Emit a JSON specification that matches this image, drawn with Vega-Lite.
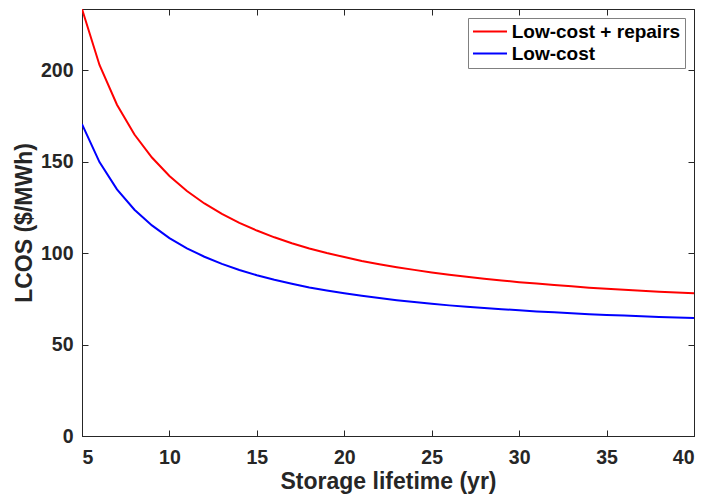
{
  "$schema": "https://vega.github.io/schema/vega-lite/v6.json",
  "autosize": "none",
  "width": 612,
  "height": 427,
  "padding": {"left": 82, "top": 9, "right": 13, "bottom": 62},
  "background": "white",
  "config": {
    "view": {"stroke": "#262626", "strokeWidth": 1},
    "font": "Liberation Sans",
    "axis": {
      "grid": false,
      "domainColor": "#262626",
      "tickColor": "#262626",
      "tickSize": -6,
      "labelFont": "Liberation Sans",
      "labelFontWeight": "bold",
      "labelFontSize": 19.5,
      "labelColor": "#262626",
      "titleFont": "Liberation Sans",
      "titleFontWeight": "bold",
      "titleFontSize": 23,
      "titleColor": "#262626"
    }
  },
  "data": {
    "values": [
      {"lifetime": 5, "lcos": 233.4, "case": "Low-cost + repairs"},
      {"lifetime": 6, "lcos": 202.8, "case": "Low-cost + repairs"},
      {"lifetime": 7, "lcos": 181.1, "case": "Low-cost + repairs"},
      {"lifetime": 8, "lcos": 164.8, "case": "Low-cost + repairs"},
      {"lifetime": 9, "lcos": 152.2, "case": "Low-cost + repairs"},
      {"lifetime": 10, "lcos": 142.1, "case": "Low-cost + repairs"},
      {"lifetime": 11, "lcos": 133.9, "case": "Low-cost + repairs"},
      {"lifetime": 12, "lcos": 127.1, "case": "Low-cost + repairs"},
      {"lifetime": 13, "lcos": 121.4, "case": "Low-cost + repairs"},
      {"lifetime": 14, "lcos": 116.5, "case": "Low-cost + repairs"},
      {"lifetime": 15, "lcos": 112.3, "case": "Low-cost + repairs"},
      {"lifetime": 16, "lcos": 108.6, "case": "Low-cost + repairs"},
      {"lifetime": 17, "lcos": 105.4, "case": "Low-cost + repairs"},
      {"lifetime": 18, "lcos": 102.5, "case": "Low-cost + repairs"},
      {"lifetime": 19, "lcos": 100.0, "case": "Low-cost + repairs"},
      {"lifetime": 20, "lcos": 97.8, "case": "Low-cost + repairs"},
      {"lifetime": 21, "lcos": 95.7, "case": "Low-cost + repairs"},
      {"lifetime": 22, "lcos": 93.9, "case": "Low-cost + repairs"},
      {"lifetime": 23, "lcos": 92.3, "case": "Low-cost + repairs"},
      {"lifetime": 24, "lcos": 90.8, "case": "Low-cost + repairs"},
      {"lifetime": 25, "lcos": 89.4, "case": "Low-cost + repairs"},
      {"lifetime": 26, "lcos": 88.2, "case": "Low-cost + repairs"},
      {"lifetime": 27, "lcos": 87.0, "case": "Low-cost + repairs"},
      {"lifetime": 28, "lcos": 86.0, "case": "Low-cost + repairs"},
      {"lifetime": 29, "lcos": 85.0, "case": "Low-cost + repairs"},
      {"lifetime": 30, "lcos": 84.1, "case": "Low-cost + repairs"},
      {"lifetime": 31, "lcos": 83.3, "case": "Low-cost + repairs"},
      {"lifetime": 32, "lcos": 82.5, "case": "Low-cost + repairs"},
      {"lifetime": 33, "lcos": 81.8, "case": "Low-cost + repairs"},
      {"lifetime": 34, "lcos": 81.1, "case": "Low-cost + repairs"},
      {"lifetime": 35, "lcos": 80.5, "case": "Low-cost + repairs"},
      {"lifetime": 36, "lcos": 79.9, "case": "Low-cost + repairs"},
      {"lifetime": 37, "lcos": 79.4, "case": "Low-cost + repairs"},
      {"lifetime": 38, "lcos": 78.9, "case": "Low-cost + repairs"},
      {"lifetime": 39, "lcos": 78.4, "case": "Low-cost + repairs"},
      {"lifetime": 40, "lcos": 78.0, "case": "Low-cost + repairs"},
      {"lifetime": 5, "lcos": 170.5, "case": "Low-cost"},
      {"lifetime": 6, "lcos": 149.7, "case": "Low-cost"},
      {"lifetime": 7, "lcos": 134.8, "case": "Low-cost"},
      {"lifetime": 8, "lcos": 123.7, "case": "Low-cost"},
      {"lifetime": 9, "lcos": 115.1, "case": "Low-cost"},
      {"lifetime": 10, "lcos": 108.2, "case": "Low-cost"},
      {"lifetime": 11, "lcos": 102.6, "case": "Low-cost"},
      {"lifetime": 12, "lcos": 98.0, "case": "Low-cost"},
      {"lifetime": 13, "lcos": 94.1, "case": "Low-cost"},
      {"lifetime": 14, "lcos": 90.7, "case": "Low-cost"},
      {"lifetime": 15, "lcos": 87.9, "case": "Low-cost"},
      {"lifetime": 16, "lcos": 85.4, "case": "Low-cost"},
      {"lifetime": 17, "lcos": 83.2, "case": "Low-cost"},
      {"lifetime": 18, "lcos": 81.2, "case": "Low-cost"},
      {"lifetime": 19, "lcos": 79.5, "case": "Low-cost"},
      {"lifetime": 20, "lcos": 78.0, "case": "Low-cost"},
      {"lifetime": 21, "lcos": 76.6, "case": "Low-cost"},
      {"lifetime": 22, "lcos": 75.4, "case": "Low-cost"},
      {"lifetime": 23, "lcos": 74.2, "case": "Low-cost"},
      {"lifetime": 24, "lcos": 73.2, "case": "Low-cost"},
      {"lifetime": 25, "lcos": 72.3, "case": "Low-cost"},
      {"lifetime": 26, "lcos": 71.4, "case": "Low-cost"},
      {"lifetime": 27, "lcos": 70.7, "case": "Low-cost"},
      {"lifetime": 28, "lcos": 69.9, "case": "Low-cost"},
      {"lifetime": 29, "lcos": 69.3, "case": "Low-cost"},
      {"lifetime": 30, "lcos": 68.7, "case": "Low-cost"},
      {"lifetime": 31, "lcos": 68.1, "case": "Low-cost"},
      {"lifetime": 32, "lcos": 67.6, "case": "Low-cost"},
      {"lifetime": 33, "lcos": 67.1, "case": "Low-cost"},
      {"lifetime": 34, "lcos": 66.6, "case": "Low-cost"},
      {"lifetime": 35, "lcos": 66.2, "case": "Low-cost"},
      {"lifetime": 36, "lcos": 65.8, "case": "Low-cost"},
      {"lifetime": 37, "lcos": 65.5, "case": "Low-cost"},
      {"lifetime": 38, "lcos": 65.1, "case": "Low-cost"},
      {"lifetime": 39, "lcos": 64.8, "case": "Low-cost"},
      {"lifetime": 40, "lcos": 64.5, "case": "Low-cost"}
    ]
  },
  "layer": [
    {
      "mark": {"type": "line", "strokeWidth": 2, "clip": true},
      "encoding": {
        "x": {
          "field": "lifetime", "type": "quantitative",
          "scale": {"domain": [5, 40], "nice": false, "zero": false},
          "axis": {"orient": "bottom", "values": [5, 10, 15, 20, 25, 30, 35, 40], "title": "Storage lifetime (yr)", "labelPadding": 18.5, "titlePadding": 3}
        },
        "y": {
          "field": "lcos", "type": "quantitative",
          "scale": {"domain": [0, 233.4], "nice": false},
          "axis": {"orient": "left", "values": [0, 50, 100, 150, 200], "title": "LCOS ($/MWh)", "labelPadding": 15, "titlePadding": 4}
        },
        "color": {
          "field": "case", "type": "nominal",
          "scale": {"domain": ["Low-cost + repairs", "Low-cost"], "range": ["#ff0000", "#0000ff"]},
          "legend": {
            "title": null,
            "orient": "top-right",
            "offset": 9,
            "symbolType": "M-2,0H2",
            "symbolSize": 289,
            "symbolOffset": 8.5,
            "symbolStrokeWidth": 2,
            "labelFont": "Liberation Sans",
            "labelFontWeight": "bold",
            "labelFontSize": 19,
            "labelColor": "#000000",
            "labelOffset": 12.2,
            "labelLimit": 400,
            "strokeColor": "#808080",
            "fillColor": "white",
            "padding": 4,
            "rowPadding": 2
          }
        }
      }
    },
    {
      "mark": {"type": "line", "strokeWidth": 0, "opacity": 0},
      "encoding": {
        "x": {
          "field": "lifetime", "type": "quantitative",
          "axis": {"orient": "top", "values": [5, 10, 15, 20, 25, 30, 35, 40], "labels": false, "title": null}
        },
        "y": {
          "field": "lcos", "type": "quantitative",
          "axis": {"orient": "right", "values": [0, 50, 100, 150, 200], "labels": false, "title": null}
        },
        "detail": {"field": "case"}
      }
    }
  ],
  "resolve": {"axis": {"x": "independent", "y": "independent"}}
}
